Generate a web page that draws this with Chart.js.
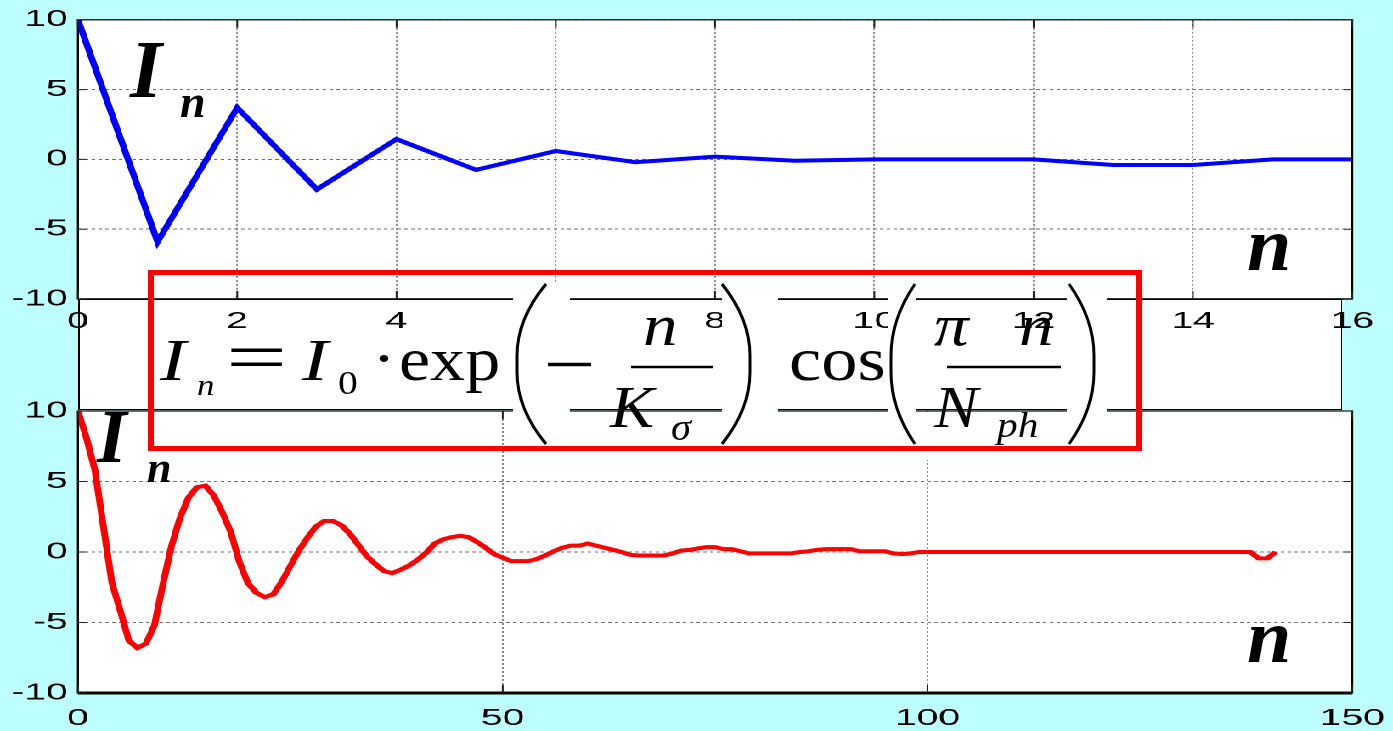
<!DOCTYPE html>
<html>
<head>
<meta charset="utf-8">
<script src="https://cdn.jsdelivr.net/npm/chart.js@4.4.0/dist/chart.umd.min.js"></script>
<style>
html, body { margin: 0; padding: 0; width: 1393px; height: 731px; overflow: hidden; background: #bdffff; }
#gap { position: absolute; left: 78px; top: 299px; width: 1264px; height: 111px; background: #fff;
       box-sizing: border-box; border: 1px solid #000; border-left-width: 2px; z-index: 0; }
#stage { position: absolute; left: 0; top: 0; width: 820px; height: 731px;
         transform: scaleX(1.69878); transform-origin: 0 0; z-index: 1; }
#stage canvas { position: absolute; left: 0; }
#topChart { top: 0; }
#bottomChart { top: 380px; }
#over { position: absolute; left: 0; top: 0; width: 1393px; height: 731px; z-index: 2; }
.patch { position: absolute; background: #fff; }
.t { position: absolute; line-height: 1; white-space: nowrap; color: #000;
     font-family: "Liberation Serif", "Times New Roman", serif; transform-origin: 0 0; }
#redbox { position: absolute; left: 148px; top: 270px; width: 994px; height: 181px; box-sizing: border-box;
          border: 5px solid #ff0000; border-left-width: 6px; border-right-width: 6px; z-index: 3; }
</style>
</head>
<body>
<div id="gap"></div>
<div id="stage">
  <canvas id="topChart" width="820" height="345"></canvas>
  <canvas id="bottomChart" width="820" height="351"></canvas>
</div>
<div id="over"></div>
<div id="redbox"></div>
<script>
// upper plot: I_n for n = 0..16
const topN = [0, 1, 2, 3, 4, 5, 6, 7, 8, 9, 10, 11, 12, 13, 14, 15, 16];
const topI = [10, -5.9, 3.7, -2.15, 1.45, -0.75, 0.6, -0.2, 0.2, -0.1, 0, 0, 0, -0.4, -0.4, 0, 0];
const topXTicks = [0, 2, 4, 6, 8, 10, 12, 14, 16];

// lower plot: I_n for n = 0..141
const bottomI = [
  10, 8.1, 5.8, 1.8, -2.2, -4.2, -6.3, -6.8, -6.5, -5.2,
  -2.3, 0.4, 2.4, 3.85, 4.6, 4.7, 4.0, 2.8, 1.4, -0.7,
  -2.2, -2.9, -3.2, -3.0, -2.1, -1.0, 0.1, 1.0, 1.8, 2.2,
  2.2, 1.9, 1.3, 0.5, -0.3, -0.85, -1.35, -1.5, -1.25, -0.95,
  -0.55, -0.05, 0.6, 0.9, 1.05, 1.15, 1.05, 0.7, 0.3, -0.15,
  -0.4, -0.65, -0.65, -0.65, -0.5, -0.25, 0.05, 0.3, 0.45, 0.45,
  0.6, 0.45, 0.3, 0.15, 0, -0.2, -0.25, -0.25, -0.25, -0.25,
  -0.1, 0.1, 0.15, 0.25, 0.35, 0.35, 0.2, 0.2, 0.05, -0.1,
  -0.1, -0.1, -0.1, -0.1, -0.1, 0, 0.05, 0.15, 0.2, 0.2,
  0.2, 0.2, 0.05, 0.05, 0.05, 0.05, -0.1, -0.15, -0.1, 0,
  0, 0, 0, 0, 0, 0, 0, 0, 0, 0,
  0, 0, 0, 0, 0, 0, 0, 0, 0, 0,
  0, 0, 0, 0, 0, 0, 0, 0, 0, 0,
  0, 0, 0, 0, 0, 0, 0, 0, 0, -0.45,
  -0.45, 0
];
const bottomN = bottomI.map((_, i) => i);
const bottomXTicks = [0, 50, 100, 150];
const yTicks = [-10, -5, 0, 5, 10];

const tickFont = { family: '"Liberation Sans", Arial, sans-serif', size: 23 };

// white plot background, black box and inward tick marks
const framePlugin = {
  id: 'frame',
  beforeDraw(chart) {
    const { ctx, chartArea: a } = chart;
    ctx.save();
    ctx.fillStyle = '#ffffff';
    ctx.fillRect(a.left, a.top, a.right - a.left, a.bottom - a.top);
    ctx.restore();
  },
  afterDatasetsDraw(chart, args, opts) {
    const { ctx, chartArea: a, scales: { x, y } } = chart;
    ctx.save();
    ctx.strokeStyle = '#000';
    ctx.lineWidth = 1.2;
    ctx.strokeRect(a.left, a.top, a.right - a.left, a.bottom - a.top);
    ctx.lineWidth = opts.bottomWidth || 1.5;
    ctx.beginPath();
    ctx.moveTo(a.left, a.bottom);
    ctx.lineTo(a.right, a.bottom);
    ctx.stroke();
    ctx.lineWidth = 1;
    ctx.strokeStyle = '#222';
    ctx.beginPath();
    x.ticks.forEach(t => {
      const px = x.getPixelForValue(t.value);
      ctx.moveTo(px, a.bottom); ctx.lineTo(px, a.bottom - 8);
      ctx.moveTo(px, a.top); ctx.lineTo(px, a.top + 8);
    });
    y.ticks.forEach(t => {
      const py = y.getPixelForValue(t.value);
      ctx.moveTo(a.left, py); ctx.lineTo(a.left + 5, py);
      ctx.moveTo(a.right, py); ctx.lineTo(a.right - 5, py);
    });
    ctx.stroke();
    ctx.restore();
  }
};

function makeChart(id, labels, values, color, xMax, xTicks, padTop, xHeight, xPad, bottomWidth) {
  return new Chart(document.getElementById(id), {
    type: 'line',
    data: {
      labels: labels,
      datasets: [{ data: values, borderColor: color, borderWidth: 4, pointRadius: 0, tension: 0, fill: false }]
    },
    options: {
      responsive: false,
      animation: false,
      devicePixelRatio: 2,
      layout: { padding: { top: padTop, right: 24, left: 0, bottom: 0 } },
      plugins: { legend: { display: false }, tooltip: { enabled: false }, frame: { bottomWidth: bottomWidth } },
      scales: {
        x: {
          type: 'linear', min: 0, max: xMax,
          afterBuildTicks: s => { s.ticks = xTicks.map(v => ({ value: v })); },
          afterFit: s => { s.height = xHeight; s.paddingLeft = 0; s.paddingRight = 0; },
          grid: { color: '#6e6e6e', lineWidth: 0.8, drawTicks: false },
          border: { display: false, dash: [2, 2] },
          ticks: { padding: xPad, font: tickFont, color: '#000', maxRotation: 0, autoSkip: false }
        },
        y: {
          min: -10, max: 10,
          afterBuildTicks: s => { s.ticks = yTicks.map(v => ({ value: v })); },
          afterFit: s => { s.width = 45.9; },
          grid: { color: '#6e6e6e', lineWidth: 1, drawTicks: false },
          border: { display: false, dash: [2, 2] },
          ticks: { padding: 6, font: tickFont, color: '#000' }
        }
      }
    },
    plugins: [framePlugin]
  });
}

makeChart('topChart', topN, topI, '#0000ff', 16, topXTicks, 16, 46, 9, 1.5);
makeChart('bottomChart', bottomN, bottomI, '#ff0000', 150, bottomXTicks, 31, 38, 12, 3);

// overlay: formula and axis letters
const over = document.getElementById('over');
function patch(x0, y0, x1, y1) {
  const d = document.createElement('div');
  d.className = 'patch';
  d.style.cssText = `left:${x0}px;top:${y0}px;width:${x1 - x0}px;height:${y1 - y0}px;`;
  over.appendChild(d);
}
function txt(s, x, base, size, style, weight, sx) {
  const e = document.createElement('span');
  e.className = 't';
  e.textContent = s;
  e.style.left = x + 'px';
  e.style.top = (base - 0.8375 * size) + 'px';
  e.style.fontSize = size + 'px';
  e.style.fontStyle = style;
  e.style.fontWeight = weight;
  e.style.transform = `scaleX(${sx})`;
  over.appendChild(e);
}

patch(513, 282, 570, 445);
patch(722, 282, 778, 445);
patch(888, 282, 916, 445);
patch(1067, 282, 1107, 445);
patch(905, 412, 950, 460);

// axis letters
txt('I', 130, 98, 82, 'italic', 'bold', 1.0);
txt('n', 180, 118, 46, 'italic', 'bold', 1.0);
txt('I', 97, 462, 76, 'italic', 'bold', 1.0);
txt('n', 147, 483, 44, 'italic', 'bold', 1.0);
txt('n', 1247, 270, 76, 'italic', 'bold', 1.05);
txt('n', 1247, 662, 76, 'italic', 'bold', 1.05);

// formula
txt('I', 160, 380, 60, 'italic', 'normal', 1.3);
txt('n', 197, 395, 29, 'italic', 'normal', 1.2);
txt('=', 226, 382, 70, 'normal', 'normal', 1.55);
txt('I', 302, 380, 60, 'italic', 'normal', 1.3);
txt('0', 338, 395, 33, 'normal', 'normal', 1.2);
txt('\u00b7', 372, 378, 60, 'normal', 'normal', 1.2);
txt('exp', 399, 380, 62, 'normal', 'normal', 1.13);
txt('n', 643, 345, 60, 'italic', 'normal', 1.15);
txt('K', 610, 427, 60, 'italic', 'normal', 1.1);
txt('\u03c3', 671, 440, 37, 'italic', 'normal', 1.1);
txt('cos', 789, 380, 62, 'normal', 'normal', 1.17);
txt('\u03c0', 934, 345, 60, 'italic', 'normal', 1.15);
txt('n', 1019, 345, 60, 'italic', 'normal', 1.15);
txt('N', 934, 427, 60, 'italic', 'normal', 1.1);
txt('ph', 997, 437, 36, 'italic', 'normal', 1.15);

// parentheses, minus and fraction bars
const ns = 'http://www.w3.org/2000/svg';
const svg = document.createElementNS(ns, 'svg');
svg.setAttribute('width', '1393');
svg.setAttribute('height', '731');
svg.style.cssText = 'position:absolute;left:0;top:0;';
function path(d, w) {
  const p = document.createElementNS(ns, 'path');
  p.setAttribute('d', d);
  p.setAttribute('fill', 'none');
  p.setAttribute('stroke', '#000');
  p.setAttribute('stroke-width', w);
  svg.appendChild(p);
}
function paren(l, r, t, b, open) {
  const s = open ? r : l, e = open ? l : r;
  path(`M ${s} ${t} Q ${e} ${t + 35} ${e} ${t + 72} L ${e} ${b - 72} Q ${e} ${b - 35} ${s} ${b}`, 3);
}
paren(517, 546, 284, 444, true);
paren(722, 750, 284, 444, false);
paren(891, 915, 284, 444, true);
paren(1069, 1094, 284, 444, false);
path('M 548 364.5 L 591 364.5', 3.5);
path('M 631 367 L 713 367', 2.5);
path('M 947 367 L 1061 367', 2.5);
over.appendChild(svg);
</script>
</body>
</html>
